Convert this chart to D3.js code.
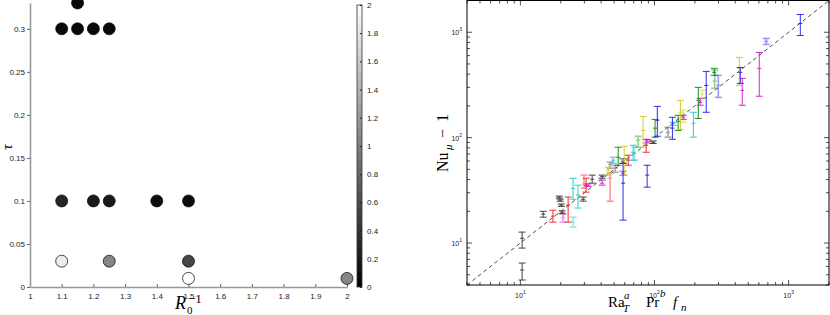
<!DOCTYPE html>
<html>
<head>
<meta charset="utf-8">
<script src="https://cdn.jsdelivr.net/npm/d3@7"></script>
<style>
body { margin: 0; background: #fff; }
svg { display: block; }
text { font-family: "Liberation Sans", Arial, sans-serif; }
.tex { font-family: "Liberation Serif", "DejaVu Serif", serif; }
</style>
</head>
<body>
<div id="chart"></div>
<script>
// ---- left panel data: tau vs R0^-1, shade from colour bar ----
var r0inv = [1.15, 1.1, 1.15, 1.2, 1.25, 1.1, 1.2, 1.25, 1.4, 1.5, 1.1, 1.25, 1.5, 1.5, 2];
var tau   = [0.33, 0.3, 0.3, 0.3, 0.3, 0.1, 0.1, 0.1, 0.1, 0.1, 0.03, 0.03, 0.03, 0.01, 0.01];
var shade = [0.07, 0.07, 0.07, 0.07, 0.07, 0.3, 0.2, 0.2, 0.1, 0.1, 1.85, 1.05, 0.55, 2.0, 1.05];
var r0Ticks  = [1, 1.1, 1.2, 1.3, 1.4, 1.5, 1.6, 1.7, 1.8, 1.9, 2];
var tauTicks = [0, 0.05, 0.1, 0.15, 0.2, 0.25, 0.3];
var cbTicks  = [0, 0.2, 0.4, 0.6, 0.8, 1, 1.2, 1.4, 1.6, 1.8, 2];

// ---- right panel data: [x, Nu-1, low, high] ----
var kRuns = [[10.3, 11.1, 8.96, 12.7], [10.3, 5.55, 4.46, 6.46], [14.8, 18.8, 17.6, 20.0],
  [19.5, 27.3, 26.7, 27.9], [19.8, 25.5, 24.9, 26.1], [20.2, 22.9, 22.3, 23.5], [20.5, 19.6, 19.0, 20.2],
  [29.4, 26.0, 25.0, 27.3], [34.3, 40.3, 37.0, 44.1], [40.7, 42.7, 41.2, 44.1],
  [58.3, 60.0, 57.0, 63.0], [97.7, 90.4, 88.0, 93.0]];
var kFaint = [[46.7, 55.5, 51.3, 58.5], [50.9, 51.3, 47.0, 54.7], [126, 112, 101, 125]];
var redRuns = [[17.5, 18.0, 15.8, 20.5], [22.7, 22.9, 15.8, 27.3], [30.9, 35.4, 30.4, 41.2],
  [63.7, 61.1, 54.7, 68.1], [86.7, 84.7, 72.7, 96.5]];
var redFaint = [[46.7, 41.2, 24.9, 46.0], [29.8, 36.2, 33.2, 44.1]];
var magRuns = [[32.0, 35.4, 34.5, 36.5], [40.7, 37.0, 35.4, 39.5], [58.3, 46.0, 44.0, 48.0],
  [88.1, 93.0, 89.0, 96.0], [164, 156, 149, 163], [219, 216, 203, 236],
  [451, 281, 203, 365], [604, 454, 247, 643]];
var magFaint = [[20.8, 17.4, 15.8, 18.8]];
var cyanRuns = [[24.7, 33.0, 26.0, 41.2], [26.9, 28.5, 21.5, 35.4], [49.2, 61.1, 57.2, 65.2],
  [69.3, 72.7, 61.1, 84.7], [138, 137, 131, 140], [195, 137, 101, 174]];
var cyanFaint = [[24.7, 15.8, 14.2, 17.6], [71.0, 71.1, 61.1, 81.1]];
var greenRuns = [[53.6, 65.2, 54.7, 81.1], [101, 123, 101, 149], [150, 143, 117, 163],
  [212, 226, 152, 300], [279, 416, 390, 454]];
var greenFaint = [[75.5, 94.4, 81.1, 103], [281, 344, 294, 435]];
var yelRuns = [[45.1, 49.1, 44.1, 52.4], [59.4, 61.1, 44.1, 82.8], [82.2, 117, 81.1, 159],
  [156, 174, 120, 226], [429, 454, 313, 577]];
var yelFaint = [[164, 163, 140, 182], [227, 258, 236, 281]];
var blueRuns = [[58.3, 37.0, 16.5, 57.2], [88.1, 44.1, 33.9, 54.7], [105, 146, 103, 198],
  [136, 123, 96.5, 156], [243, 313, 174, 425], [436, 416, 327, 463], [1222, 1211, 931, 1472]];
var blueFaint = [[299, 313, 241, 390], [681, 818, 766, 873]];
var logTicks = [10, 100, 1000];

var series = [
  { pts: kFaint, color: "#444", faint: true }, { pts: redFaint, color: "#ee2222", faint: true },
  { pts: magFaint, color: "#cc22cc", faint: true }, { pts: cyanFaint, color: "#22cccc", faint: true },
  { pts: greenFaint, color: "#119911", faint: true }, { pts: yelFaint, color: "#cccc22", faint: true },
  { pts: blueFaint, color: "#2222ee", faint: true },
  { pts: kRuns, color: "#3a3a3a" }, { pts: redRuns, color: "#ee2222" },
  { pts: magRuns, color: "#cc22cc" }, { pts: cyanRuns, color: "#22cccc" },
  { pts: greenRuns, color: "#118811" }, { pts: yelRuns, color: "#cccc22" },
  { pts: blueRuns, color: "#2222ee" }
];

var svg = d3.select("#chart").append("svg").attr("width", 830).attr("height", 315);

// ================= left panel =================
var lx = d3.scaleLinear().domain([1, 2]).range([30, 347]);
var ly = d3.scaleLinear().domain([0, 0.33]).range([287, 3]);
var grey = d3.scaleLinear().domain([0, 2]).range(["#000", "#fff"]);

var xAx = svg.append("g").attr("transform", "translate(0,287)")
  .call(d3.axisBottom(lx).tickValues(r0Ticks).tickSizeInner(-3).tickSizeOuter(0).tickPadding(6)
    .tickFormat(d3.format("")));
var yAx = svg.append("g").attr("transform", "translate(30,0)")
  .call(d3.axisLeft(ly).tickValues(tauTicks).tickSizeInner(3).tickSizeOuter(0).tickPadding(2)
    .tickFormat(d3.format("")));
[xAx, yAx].forEach(function (a) {
  a.select(".domain").attr("stroke", "#999").attr("stroke-width", 1.6);
  a.selectAll(".tick line").attr("stroke", "#666");
  a.selectAll(".tick text").attr("font-size", "8px").attr("fill", "#222")
    .attr("font-family", "Liberation Sans, Arial, sans-serif");
});

svg.append("g").selectAll("circle")
  .data(r0inv)
  .enter()
  .append("circle")
  .attr("cx", function (d) { return lx(d); })
  .attr("cy", function (d, i) { return ly(tau[i]); })
  .attr("r", 6)
  .attr("fill", function (d, i) { return grey(shade[i]); })
  .attr("stroke", "#000")
  .attr("stroke-width", 0.7);

// colour bar
var cb = d3.scaleLinear().domain([0, 2]).range([287, 5]);
var grad = svg.append("defs").append("linearGradient").attr("id", "cbg")
  .attr("x1", 0).attr("y1", 1).attr("x2", 0).attr("y2", 0);
grad.append("stop").attr("offset", "0%").attr("stop-color", "#000");
grad.append("stop").attr("offset", "100%").attr("stop-color", "#fff");
svg.append("rect").attr("x", 357).attr("y", cb(2)).attr("width", 5).attr("height", cb(0) - cb(2))
  .attr("fill", "url(#cbg)").attr("stroke", "#333").attr("stroke-width", 0.8);
var cbAx = svg.append("g").attr("transform", "translate(362,0)")
  .call(d3.axisRight(cb).tickValues(cbTicks).tickSizeInner(-2).tickSizeOuter(0).tickPadding(5)
    .tickFormat(d3.format("")));
cbAx.select(".domain").remove();
cbAx.selectAll(".tick line").attr("stroke", "#222");
cbAx.selectAll(".tick text").attr("font-size", "8px").attr("fill", "#222");

// left labels
svg.append("text").attr("class", "tex").attr("transform", "translate(12,147) rotate(-90)")
  .attr("text-anchor", "middle").attr("font-size", "15px").attr("font-style", "italic").text("τ");
svg.append("text").attr("class", "tex").attr("x", 175).attr("y", 309)
  .attr("font-size", "18px").attr("font-style", "italic").text("R");
svg.append("text").attr("class", "tex").attr("x", 187).attr("y", 313.5)
  .attr("font-size", "11px").text("0");
svg.append("text").attr("class", "tex").attr("x", 188).attr("y", 303)
  .attr("font-size", "13px").text("−1");

// ================= right panel =================
var xr = d3.scaleLog().domain([4, 2000]).range([467, 829]);
var yr = d3.scaleLog().domain([4, 2000]).range([285, 0.5]);
var right = svg.append("g");

// ticks on all four sides, pointing in
var allTicks = [];
[1, 10, 100, 1000].forEach(function (dec) {
  for (var m = 1; m <= 9; m++) {
    var v = m * dec;
    if (v >= 4 && v <= 2000) allTicks.push({ v: v, len: m === 1 ? 5 : 3 });
  }
});
allTicks.forEach(function (t) {
  var X = xr(t.v), Y = yr(t.v);
  [[X, 285, X, 285 - t.len], [X, 0.5, X, 0.5 + t.len],
   [467, Y, 467 + t.len, Y], [829, Y, 829 - t.len, Y]].forEach(function (s) {
    right.append("line").attr("x1", s[0]).attr("y1", s[1]).attr("x2", s[2]).attr("y2", s[3])
      .attr("stroke", "#000").attr("stroke-width", 0.7);
  });
});

logTicks.forEach(function (v, i) {
  var tx = right.append("text").attr("x", xr(v)).attr("y", 298).attr("text-anchor", "middle")
    .attr("font-size", "7px").attr("fill", "#222");
  tx.append("tspan").text("10");
  tx.append("tspan").attr("dy", -4).attr("font-size", "5px").text(i + 1);
  var ty = right.append("text").attr("x", 462).attr("y", yr(v) + 3).attr("text-anchor", "end")
    .attr("font-size", "7px").attr("fill", "#222");
  ty.append("tspan").text("10");
  ty.append("tspan").attr("dy", -4).attr("font-size", "5px").text(i + 1);
});

// y = x guide
right.append("line")
  .attr("x1", xr(4)).attr("y1", yr(4)).attr("x2", xr(2000)).attr("y2", yr(2000))
  .attr("stroke", "#222").attr("stroke-width", 0.8).attr("stroke-dasharray", "4,3");

// error bars
series.forEach(function (s) {
  var g = right.append("g")
    .attr("stroke", s.color)
    .attr("stroke-width", s.faint ? 1.6 : 1)
    .attr("opacity", s.faint ? 0.45 : 0.95);
  s.pts.forEach(function (p) {
    var X = xr(p[0]), Y = yr(p[1]), lo = yr(p[2]), hi = yr(p[3]);
    g.append("line").attr("x1", X).attr("x2", X).attr("y1", lo).attr("y2", hi);
    g.append("line").attr("x1", X - 3.5).attr("x2", X + 3.5).attr("y1", lo).attr("y2", lo);
    g.append("line").attr("x1", X - 3.5).attr("x2", X + 3.5).attr("y1", hi).attr("y2", hi);
    g.append("line").attr("x1", X - 2).attr("x2", X + 2).attr("y1", Y).attr("y2", Y);
  });
});

right.append("rect").attr("x", 467).attr("y", 0.5).attr("width", 362).attr("height", 284.5)
  .attr("fill", "none").attr("stroke", "#000").attr("stroke-width", 1);

// right labels
var yl = right.append("g").attr("transform", "translate(448,172) rotate(-90)");
yl.append("text").attr("class", "tex").attr("x", 0).attr("y", 0).attr("font-size", "16px").text("Nu");
yl.append("text").attr("class", "tex").attr("x", 22).attr("y", 4).attr("font-size", "11px")
  .attr("font-style", "italic").text("μ");
yl.append("text").attr("class", "tex").attr("x", 34).attr("y", 0).attr("font-size", "16px").text("−");
yl.append("text").attr("class", "tex").attr("x", 50).attr("y", 0).attr("font-size", "16px").text("1");

var xl = [
  { t: "Ra", x: 608, y: 307, s: 15, it: false },
  { t: "a", x: 624, y: 299, s: 11, it: true },
  { t: "T", x: 623, y: 312, s: 11, it: true },
  { t: "Pr", x: 646, y: 307, s: 15, it: false },
  { t: "b", x: 660, y: 297, s: 11, it: true },
  { t: "f", x: 673, y: 307, s: 15, it: true },
  { t: "n", x: 681, y: 311, s: 11, it: true }
];
xl.forEach(function (d) {
  right.append("text").attr("class", "tex").attr("x", d.x).attr("y", d.y)
    .attr("font-size", d.s + "px").attr("font-style", d.it ? "italic" : "normal").text(d.t);
});
</script>
</body>
</html>
